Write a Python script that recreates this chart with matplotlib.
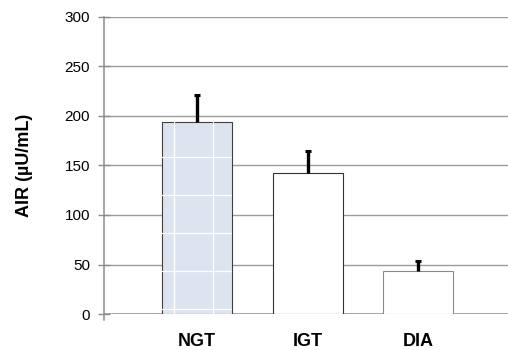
"""
AIR bar chart (NGT / IGT / DIA)
Generates: out.png
"""
import matplotlib
matplotlib.use("Agg")
import matplotlib.pyplot as plt
import numpy as np

GROUPS = ["NGT", "IGT", "DIA"]
AIR_MEAN = [194, 142, 43]
AIR_SEM = [27, 23, 11]
Y_TICKS = [0, 50, 100, 150, 200, 250, 300]
Y_LABEL = "AIR (µU/mL)"

FILL_COLORS = ["#dce4ef", "#ffffff", "#ffffff"]
EDGE_COLORS = ["#404040", "#333333", "#8a8a8a"]
GRID_COLOR = "#9c9c9c"

plt.rcParams["font.family"] = ["Liberation Sans", "DejaVu Sans"]

fig = plt.figure(figsize=(5.08, 3.5), dpi=100)
ax = fig.add_axes([104 / 508, 36 / 350, 404 / 508, 297 / 350])

x = np.arange(len(GROUPS))
bars = ax.bar(x, AIR_MEAN, width=0.63, color=FILL_COLORS, edgecolor=EDGE_COLORS,
              linewidth=0.8, zorder=2)

# light grid texture inside the first bar
first = bars[0]
bx, bw = first.get_x(), first.get_width()
for frac in (0.17, 0.73):
    ln = ax.axvline(bx + frac * bw, color="white", linewidth=0.9, zorder=2.5)
    ln.set_clip_path(first)
for yv in np.arange(5, AIR_MEAN[0], 38.5):
    ln = ax.axhline(yv, color="white", linewidth=0.9, zorder=2.5)
    ln.set_clip_path(first)

# upward-only error bars
tops = np.array(AIR_MEAN) + np.array(AIR_SEM)
ax.vlines(x, AIR_MEAN, tops, color="black", linewidth=2.4, zorder=3)
ax.plot(x, tops, linestyle="none", marker="_", markersize=5, mew=2.2,
        color="black", zorder=3)

ax.set_ylim(0, 300)
ax.set_xlim(-0.84, 2.81)
ax.set_yticks(Y_TICKS)
ax.set_xticks(x)
ax.set_xticklabels(GROUPS, fontsize=13, fontweight="bold")
ax.tick_params(axis="x", length=0, pad=14)
ax.tick_params(axis="y", direction="inout", length=8, width=1.0, color="#8c8c8c",
               labelsize=11, pad=6)

ax.yaxis.grid(True, color=GRID_COLOR, linewidth=1.0, zorder=0)
ax.set_axisbelow(True)

for side in ("top", "right", "bottom"):
    ax.spines[side].set_visible(False)
ax.spines["left"].set_color("#8c8c8c")
ax.spines["left"].set_linewidth(1.1)
ax.spines["left"].set_bounds(-6, 300)
ax.axhline(0, color=GRID_COLOR, linewidth=1.2, zorder=1)

ax.set_ylabel(Y_LABEL, fontsize=13, fontweight="bold")
ax.yaxis.set_label_coords(-0.176, 0.5)

fig.savefig("out.png", dpi=100, facecolor="white")
